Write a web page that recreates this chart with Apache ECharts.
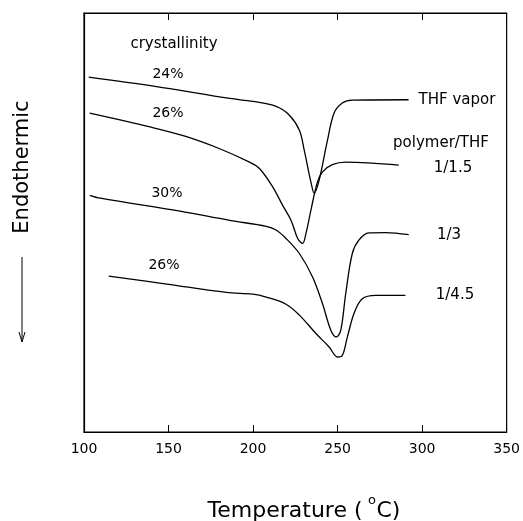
<!DOCTYPE html>
<html>
<head>
<meta charset="utf-8">
<script src="https://cdn.jsdelivr.net/npm/echarts@6/dist/echarts.min.js"></script>
<style>
  html, body { margin: 0; padding: 0; background: #fff; }
  #chart { width: 523px; height: 521px; }
</style>
</head>
<body>
<div id="chart"></div>
<script>
  // DSC traces, temperature (°C) vs. heat flow (arbitrary units, endothermic down)
  var tempVapor = [102.8, 142, 186.2, 199.9, 213.6, 221.5, 227.4, 230.3, 234.2, 236.2, 239.1, 244, 247.9, 252.8, 258.7, 292]
  var heatVapor = [8.47, 8.25, 7.96, 7.89, 7.77, 7.56, 7.20, 6.72, 5.97, 5.70, 6.01, 6.96, 7.61, 7.85, 7.92, 7.93]

  var temp15 = [103.4, 139.1, 159.7, 180.3, 197.9, 203.8, 211.6, 217.5, 222.5, 226.4, 229.3, 231.3, 234.2, 238.1, 241.1, 246.9, 254.8, 286.2]
  var heat15 = [7.61, 7.28, 7.06, 6.76, 6.44, 6.29, 5.85, 5.41, 5.05, 4.62, 4.50, 4.74, 5.29, 5.97, 6.21, 6.38, 6.44, 6.37]

  var temp3 = [103.4, 109.7, 156.8, 186.2, 207.8, 213.6, 219.5, 227.4, 235.2, 241.1, 246, 249.3, 251.9, 254.8, 258.7, 262.6, 268.5, 278.4, 292.1]
  var heat3 = [5.65, 5.58, 5.27, 5.05, 4.91, 4.82, 4.62, 4.26, 3.70, 3.06, 2.43, 2.27, 2.43, 3.30, 4.26, 4.58, 4.75, 4.76, 4.71]

  var temp45 = [114.6, 148.9, 184.2, 199.9, 207.8, 219.5, 227.4, 237.2, 245, 249.9, 252.5, 255.8, 259.7, 264.6, 272.5, 290.1]
  var heat45 = [3.72, 3.53, 3.33, 3.29, 3.22, 3.05, 2.79, 2.35, 2.03, 1.79, 1.81, 2.27, 2.83, 3.18, 3.26, 3.26]

  var xTicks = [100, 150, 200, 250, 300, 350]

  function zip(xs, ys) {
    return xs.map(function (x, i) { return [x, ys[i]] })
  }

  var font = 'DejaVu Sans'
  function label(text, x, y, size) {
    return {
      type: 'text', x: x, y: y,
      style: { text: text, fill: '#000', font: size + 'px "' + font + '"', textAlign: 'center', textVerticalAlign: 'middle' }
    }
  }

  function trace(name, data) {
    return {
      name: name,
      type: 'line',
      data: data,
      showSymbol: false,
      smooth: 0.35,
      lineStyle: { color: '#000', width: 1.3 }
    }
  }

  var chart = echarts.init(document.getElementById('chart'))
  chart.setOption({
    backgroundColor: '#fff',
    animation: false,
    grid: { left: 84, right: 15, top: 13, bottom: 89, show: true, borderColor: '#000', borderWidth: 1.2 },
    xAxis: [
      {
        type: 'value', min: xTicks[0], max: xTicks[xTicks.length - 1], interval: 50,
        axisLine: { show: true, lineStyle: { color: '#000', width: 1.2 } },
        axisTick: { show: true, inside: true, length: 7, lineStyle: { color: '#000' } },
        axisLabel: { color: '#000', fontSize: 14, fontFamily: font, margin: 10 },
        splitLine: { show: false }
      },
      {
        type: 'value', position: 'top', min: xTicks[0], max: xTicks[xTicks.length - 1], interval: 50,
        axisLine: { show: true, lineStyle: { color: '#000', width: 1.2 } },
        axisTick: { show: true, inside: true, length: 7, lineStyle: { color: '#000' } },
        axisLabel: { show: false },
        splitLine: { show: false }
      }
    ],
    yAxis: {
      type: 'value', min: 0, max: 10,
      axisLine: { show: true, lineStyle: { color: '#000', width: 1.2 } },
      axisTick: { show: false },
      axisLabel: { show: false },
      splitLine: { show: false }
    },
    series: [
      trace('THF vapor', zip(tempVapor, heatVapor)),
      trace('1/1.5', zip(temp15, heat15)),
      trace('1/3', zip(temp3, heat3)),
      trace('1/4.5', zip(temp45, heat45))
    ],
    graphic: [
      label('crystallinity', 174, 44, 15),
      label('24%', 168, 74, 14),
      label('26%', 168, 113, 14),
      label('30%', 167, 193, 14),
      label('26%', 164, 265, 14),
      label('THF vapor', 457, 100, 15),
      label('polymer/THF', 441, 143, 15),
      label('1/1.5', 453, 168, 15),
      label('1/3', 449, 235, 15),
      label('1/4.5', 455, 295, 15),
      label('Temperature (  C)', 304, 511, 22),
      label('o', 372, 501, 13),
      {
        type: 'text', x: 23, y: 167, rotation: Math.PI / 2,
        style: { text: 'Endothermic', fill: '#000', font: '21px "' + font + '"', textAlign: 'center', textVerticalAlign: 'middle' }
      },
      { type: 'line', shape: { x1: 22, y1: 257, x2: 22, y2: 342 }, style: { stroke: '#000', lineWidth: 1 } },
      { type: 'polyline', shape: { points: [[19, 332], [22, 342], [25, 332]] }, style: { stroke: '#000', fill: null, lineWidth: 1 } }
    ]
  })
</script>
</body>
</html>
